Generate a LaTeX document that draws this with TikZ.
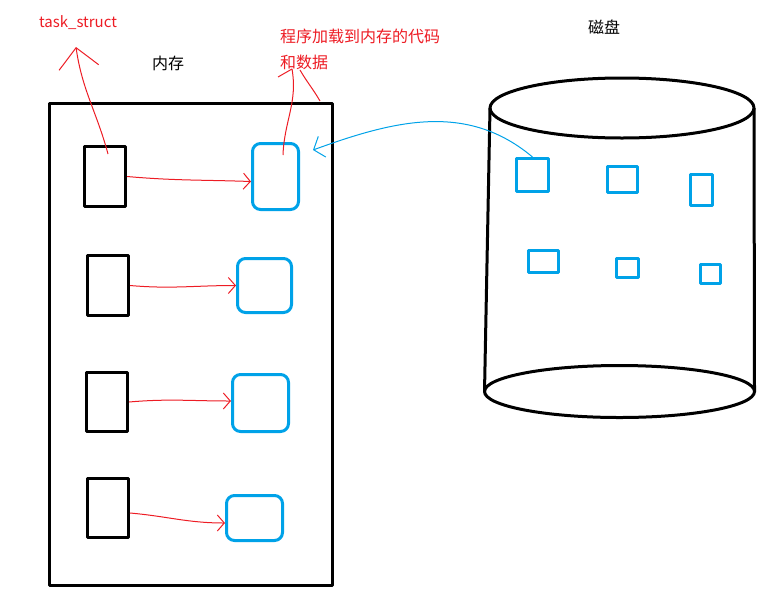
\documentclass[tikz,border=0pt]{standalone}
\usepackage{fontspec}
\newfontfamily\cjk{Noto Sans CJK SC}
\usetikzlibrary{arrows.meta}
\definecolor{paintred}{HTML}{ED1C24}
\definecolor{paintblue}{HTML}{00A2E8}
\begin{document}
\begin{tikzpicture}[x=1pt,y=-1pt,line join=round]
	\tikzstyle{pcb}=[rectangle,draw=black,line width=3pt,inner sep=0pt,minimum width=41pt]
	\tikzstyle{code}=[rectangle,rounded corners=8pt,draw=paintblue,line width=3pt,inner sep=0pt]
	\tikzstyle{blk}=[rectangle,draw=paintblue,line width=3pt,inner sep=0pt]
	\tikzstyle{label}=[font=\cjk\fontsize{16}{26}\selectfont,inner sep=0pt]
	\tikzstyle{link}=[draw=paintred,line width=1pt,-{Straight Barb[length=7pt,width=16pt]}]
	\tikzstyle{note}=[draw=paintred,line width=1pt]
	\useasboundingbox (0,0) rectangle (765,600);

	% labels
	\node[label] 		(mem-lbl)	at (168,63)	{内存};
	\node[label] 		(disk-lbl)	at (604,27)	{磁盘};
	\node[label,text=paintred,font=\cjk\fontsize{15}{20}\selectfont] 	(ts-lbl)	at (78,23)	{task\_struct};
	\node[label,text=paintred,align=left,anchor=base west] 	(code-lbl)	at (280,68)	{程序加载到内存的代码\\和数据};

	% memory
	\node[rectangle,draw=black,line width=3pt,minimum width=283pt,minimum height=482pt] 	(mem)	at (191,344.5)	{};

	\node[pcb,minimum height=60pt] 	(pcb1)	at (105,176.5)	{};
	\node[pcb,minimum height=60pt] 	(pcb2)	at (108,285.5)	{};
	\node[pcb,minimum height=59pt] 	(pcb3)	at (107,402)	{};
	\node[pcb,minimum height=59pt] 	(pcb4)	at (108,508)	{};

	\node[code,minimum width=46pt,minimum height=66pt] 	(code1)	at (275.5,176.5)	{};
	\node[code,minimum width=54pt,minimum height=54pt] 	(code2)	at (264.5,285.5)	{};
	\node[code,minimum width=56pt,minimum height=57pt] 	(code3)	at (260.5,403)	{};
	\node[code,minimum width=56pt,minimum height=45pt] 	(code4)	at (254.5,518)	{};

	% disk
	\draw[line width=3pt] (622,108) ellipse [x radius=132,y radius=30];
	\draw[line width=3pt] (619.5,391.5) ellipse [x radius=135,y radius=26];
	\draw[line width=3pt] (490,108) -- (484.5,392);
	\draw[line width=3pt] (754,108) -- (754.5,392);

	\node[blk,minimum width=32pt,minimum height=33pt] 	(blk1)	at (532.5,175)	{};
	\node[blk,minimum width=30pt,minimum height=26pt] 	(blk2)	at (622.5,179.5)	{};
	\node[blk,minimum width=22pt,minimum height=31pt] 	(blk3)	at (701.5,190)	{};
	\node[blk,minimum width=30pt,minimum height=22pt] 	(blk4)	at (543.5,261.5)	{};
	\node[blk,minimum width=22pt,minimum height=19pt] 	(blk5)	at (627.5,268)	{};
	\node[blk,minimum width=20pt,minimum height=19pt] 	(blk6)	at (710.5,274)	{};

	% loose ends of the hand-drawn notes
	\coordinate (ts-end)	at (108,154);
	\coordinate (ts-tip)	at (76,47);
	\coordinate (cd-end)	at (283,155);
	\coordinate (cd-tip)	at (292,69);
	\coordinate (cd-wl)	at (278,77);
	\coordinate (cd-ws)	at (300,70);
	\coordinate (cd-wr)	at (320,101);
	\coordinate (load-tip)	at (313,150);

	\path
		(pcb1.east)	edge[link,out=-5,in=178]	([yshift=-5pt]code1.west)
		(pcb2.east)	edge[link,out=-5,in=180]	(code2.west)
		(pcb3.east)	edge[link,out=5,in=180]	([yshift=2pt]code3.west)
		([yshift=-5pt]pcb4.east)	edge[link,out=-5,in=180]	([yshift=-5pt]code4.west);

	\draw[note,-{Straight Barb[length=20pt,width=40pt]}] (ts-end) to[out=105,in=-82] (ts-tip);
	\draw[note] (cd-end) to[out=88,in=-80] (cd-tip);
	\draw[note] (cd-wl) -- (cd-tip);
	\draw[note] (cd-ws) to[out=-60,in=120] (cd-wr);
	\draw[paintblue,line width=1pt,-{Straight Barb[length=9pt,width=22pt]}] (blk1.north) to[out=140,in=20] (load-tip);
\end{tikzpicture}
\end{document}
